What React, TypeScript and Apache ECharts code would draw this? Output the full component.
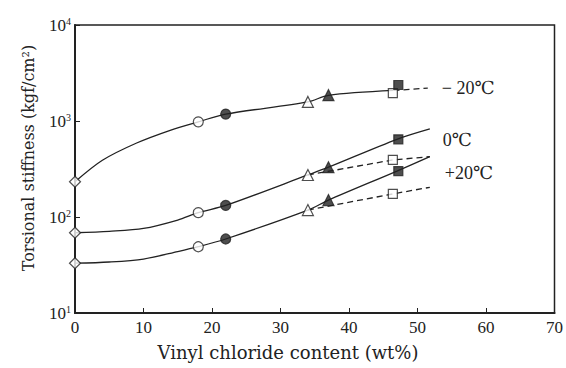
import React, { useEffect, useRef } from "react";
import * as echarts from "echarts";

// Vinyl chloride content (wt%) of the measured samples
const contents = [0, 18, 22, 34, 37, 46.4, 47.2];
// Torsional stiffness (kgf/cm2) for each measured sample, per temperature
const stiffMinus20 = [233, 980, 1180, 1580, 1860, 1950, 2370];
const stiff0 = [68.5, 111, 132, 274, 330, 393, 644];
const stiffPlus20 = [33, 49, 59, 118, 150, 174, 301];

const curveMinus20X = [0, 4, 9, 14, 18, 22, 34, 37, 46.5];
const curveMinus20Y = [233, 390, 590, 805, 980, 1180, 1580, 1850, 2080];
const dashMinus20X = [46.5, 51.5];
const dashMinus20Y = [2080, 2200];

const curve0X = [0, 5, 10, 15, 18, 22, 34, 37, 47, 51.8];
const curve0Y = [68.5, 71, 76, 93, 111, 132, 274, 330, 644, 826];
const dash0X = [34, 46.4, 51.8];
const dash0Y = [274, 393, 425];

const curvePlus20X = [0, 5, 10, 15, 18, 22, 34, 37, 47, 51.8];
const curvePlus20Y = [33, 34, 36.5, 43.6, 49, 59, 118, 150, 301, 425];
const dashPlus20X = [34, 46.4, 51.8];
const dashPlus20Y = [118, 174, 204];

const tempLabels = ["\u2212 20\u2103", "0\u2103", "+20\u2103"];
const xTicks = [0, 10, 20, 30, 40, 50, 60, 70];
const yTickExps = ["1", "2", "3", "4"];

const markerKinds = [
  { symbol: "diamond", filled: false, size: 11 },
  { symbol: "circle", filled: false, size: 10 },
  { symbol: "circle", filled: true, size: 10 },
  { symbol: "triangle", filled: false, size: 11 },
  { symbol: "triangle", filled: true, size: 11 },
  { symbol: "rect", filled: false, size: 9 },
  { symbol: "rect", filled: true, size: 9 },
];

const INK = "#222";
const SERIF = "'Liberation Serif', 'DejaVu Serif', 'Noto Sans CJK JP', serif";
const WIDE_SERIF = "'DejaVu Serif', 'Liberation Serif', serif";

function zip(xs: number[], ys: number[]) {
  return xs.map((x, i) => [x, ys[i]]);
}

export default function App() {
  const ref = useRef<HTMLDivElement>(null);
  useEffect(() => {
    if (!ref.current) return;
    const chart = echarts.init(ref.current, null, { renderer: "svg" });

    const lineSeries = (
      xs: number[],
      ys: number[],
      dashed: boolean,
      label?: { text: string; offset: number[] }
    ) => ({
      type: "line",
      data: zip(xs, ys),
      smooth: dashed ? false : 0.3,
      showSymbol: false,
      symbol: "none",
      silent: true,
      z: 1,
      lineStyle: {
        color: INK,
        width: 1.3,
        type: dashed ? [6, 4] : "solid",
      },
      endLabel: label
        ? {
            show: true,
            formatter: () => label.text,
            offset: label.offset,
            color: INK,
            fontSize: 18,
            fontFamily: SERIF,
          }
        : undefined,
    });

    const markerSeries = markerKinds.map((k, idx) => ({
      type: "scatter",
      symbol: k.symbol,
      symbolSize: k.size,
      z: 5,
      itemStyle: {
        color: k.filled ? INK : "#fff",
        borderColor: INK,
        borderWidth: 1.2,
      },
      data: [
        [contents[idx], stiffMinus20[idx]],
        [contents[idx], stiff0[idx]],
        [contents[idx], stiffPlus20[idx]],
      ],
    }));

    chart.setOption({
      animation: false,
      backgroundColor: "#fff",
      grid: {
        left: 75,
        right: 11,
        top: 25,
        bottom: 55,
        show: true,
        borderColor: INK,
        borderWidth: 1.5,
      },
      xAxis: {
        type: "value",
        min: 0,
        max: 70,
        interval: 10,
        axisLine: { show: true, onZero: false, lineStyle: { color: INK, width: 2 } },
        axisTick: { show: true, inside: true, length: 5, lineStyle: { color: INK } },
        axisLabel: {
          color: INK,
          fontSize: 17,
          fontFamily: SERIF,
          margin: 6,
          formatter: (v: number) => (xTicks.includes(v) ? String(v) : ""),
        },
        splitLine: { show: false },
      },
      yAxis: {
        type: "log",
        logBase: 10,
        min: 10,
        max: 10000,
        axisLine: { show: true, lineStyle: { color: INK, width: 2 } },
        axisTick: { show: true, inside: true, length: 5, lineStyle: { color: INK } },
        minorTick: { show: false },
        axisLabel: {
          color: INK,
          fontSize: 17,
          fontFamily: SERIF,
          margin: 4,
          formatter: (v: number) => {
            const e = Math.round(Math.log10(v));
            return "10{sup|" + yTickExps[e - 1] + "}";
          },
          rich: {
            sup: { fontSize: 10, verticalAlign: "top", padding: [0, 0, 8, 0], fontFamily: SERIF, color: INK },
          },
        },
        splitLine: { show: false },
      },
      graphic: [
        {
          type: "text",
          x: 28,
          y: 158,
          rotation: Math.PI / 2,
          style: {
            text: "Torsional stiffness (kgf/cm\u00b2)",
            fill: INK,
            fontSize: 16,
            fontFamily: WIDE_SERIF,
            align: "center",
            verticalAlign: "middle",
          },
        },
        {
          type: "text",
          x: 288,
          y: 352,
          style: {
            text: "Vinyl chloride content (wt%)",
            fill: INK,
            fontSize: 18,
            fontFamily: WIDE_SERIF,
            align: "center",
            verticalAlign: "middle",
          },
        },
      ],
      series: [
        lineSeries(curveMinus20X, curveMinus20Y, false),
        lineSeries(dashMinus20X, dashMinus20Y, true, { text: tempLabels[0], offset: [6, 0] }),
        lineSeries(curve0X, curve0Y, false, { text: tempLabels[1], offset: [5, 11] }),
        lineSeries(dash0X, dash0Y, true),
        lineSeries(curvePlus20X, curvePlus20Y, false),
        lineSeries(dashPlus20X, dashPlus20Y, true, { text: tempLabels[2], offset: [7, -14] }),
        ...markerSeries,
      ],
    });
    return () => chart.dispose();
  }, []);
  return (
    <div
      ref={ref}
      style={{ position: "absolute", left: 0, top: 0, width: 566, height: 368 }}
    />
  );
}
